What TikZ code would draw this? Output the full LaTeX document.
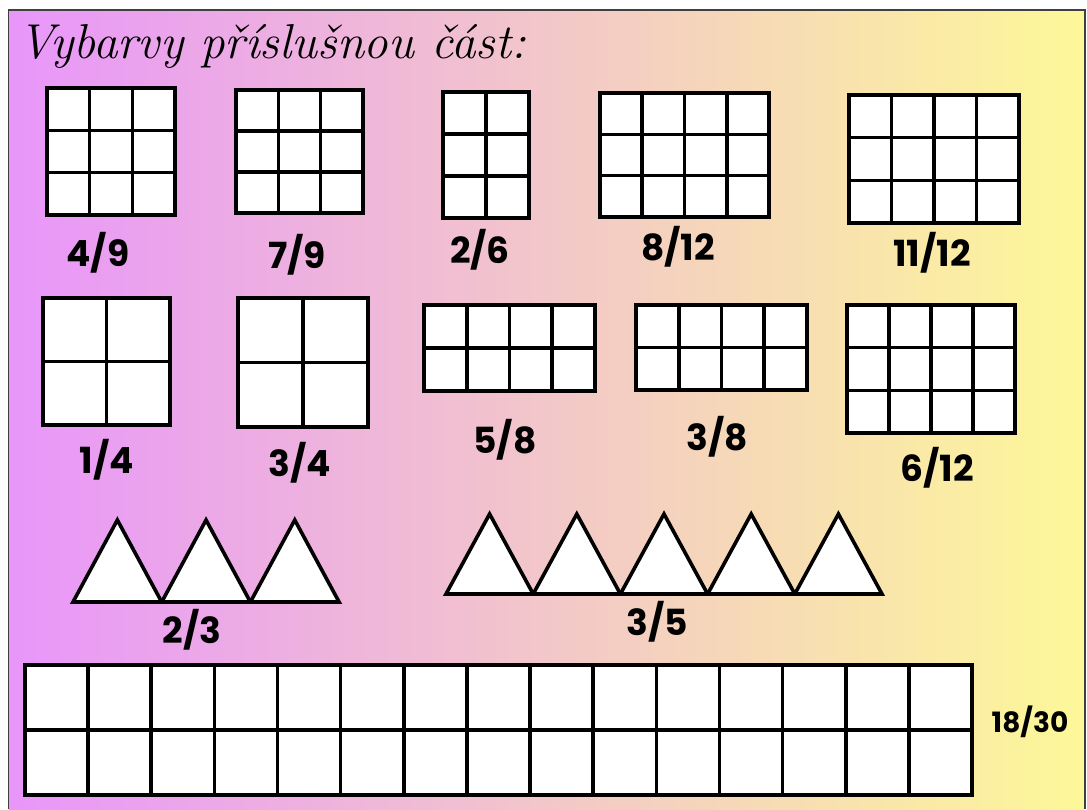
\documentclass[tikz,border=0pt]{standalone}
\usepackage{fontspec}
\setsansfont{Poppins}
\usepackage{tikz}
\usetikzlibrary{positioning}

\definecolor{sheetviolet}{RGB}{232,150,250}
\definecolor{sheetpink}{RGB}{240,196,212}
\definecolor{sheetyellow}{RGB}{253,248,152}

% grid of cells: x0, y0, x1, y1, columns, rows
\newcommand{\cellgrid}[6]{%
  \fill[white] (#1,#2) rectangle (#3,#4);
  \foreach \k [evaluate=\k as \xk using #1+(#3-#1)*\k/#5] in {0,...,#5}
    \draw[gridline] (\xk,#2) -- (\xk,#4);
  \foreach \k [evaluate=\k as \yk using #2+(#4-#2)*\k/#6] in {0,...,#6}
    \draw[gridline] (#1,\yk) -- (#3,\yk);
}
% row of triangles: x0, base y, apex y, width, count
\newcommand{\trirow}[5]{%
  \foreach \k in {1,...,#5}
    \filldraw[gridline, fill=white, line join=miter]
      ({#1+(\k-1)*#4},#2) -- ({#1+(\k-0.5)*#4},#3) -- ({#1+\k*#4},#2) -- cycle;
}

\begin{document}
\begin{tikzpicture}[
  x=0.5pt, y=-0.5pt,
  gridline/.style={line width=1.8pt, line cap=rect},
  fraclabel/.style={font=\sffamily\bfseries\fontsize{18}{20}\selectfont},
  sidelabel/.style={font=\sffamily\bfseries\fontsize{14}{17}\selectfont},
  heading/.style={font=\itshape\fontsize{24.5}{28}\selectfont, anchor=base west, inner sep=0pt},
]
\useasboundingbox (0,0) rectangle (1087,809);

% sheet with colour gradient
\fill[white] (0,0) rectangle (1087,809);
\shade[left color=sheetviolet, middle color=sheetpink, right color=sheetyellow]
  (8.5,10) rectangle (1085,809);
\draw[line width=0.8pt, draw=black!75] (8.5,809) -- (8.5,10) -- (1085,10) -- (1085,809);

% title
\node[heading] (title) at (18,58) {Vybarvy příslušnou část:};

% first row of grids
\cellgrid{47}{88}{175}{215}{3}{3}
\cellgrid{236}{90}{363}{213}{3}{3}
\cellgrid{443}{92}{529}{218}{2}{3}
\cellgrid{600}{93}{769}{217}{4}{3}
\cellgrid{849}{95}{1019}{223}{4}{3}
\node[fraclabel] (q49) at (98,253) {4/9};
\node[fraclabel] (q79) at (297,255) {7/9};
\node[fraclabel] (q26) at (480,250) {2/6};
\node[fraclabel] (q812) at (678,247) {8/12};
\node[fraclabel] (q1112) at (932,253) {11/12};

% second row of grids
\cellgrid{43}{298}{170}{425}{2}{2}
\cellgrid{238}{298}{368}{427}{2}{2}
\cellgrid{424}{305}{595}{391}{4}{2}
\cellgrid{636}{305}{807}{390}{4}{2}
\cellgrid{847}{305}{1015}{433}{4}{3}
\node[fraclabel] (q14) at (107,460) {1/4};
\node[fraclabel] (q34) at (300,463) {3/4};
\node[fraclabel] (q58) at (505,440) {5/8};
\node[fraclabel] (q38) at (717,437) {3/8};
\node[fraclabel] (q612) at (937,468) {6/12};

% triangles
\trirow{73}{602}{520}{88.7}{3}
\trirow{446}{594}{514}{87.2}{5}
\node[fraclabel] (q23) at (192,630) {2/3};
\node[fraclabel] (q35) at (657,622) {3/5};

% long strip
\cellgrid{25}{665}{972}{795}{15}{2}
\node[sidelabel] (q1830) at (1030,722) {18/30};

\end{tikzpicture}
\end{document}
